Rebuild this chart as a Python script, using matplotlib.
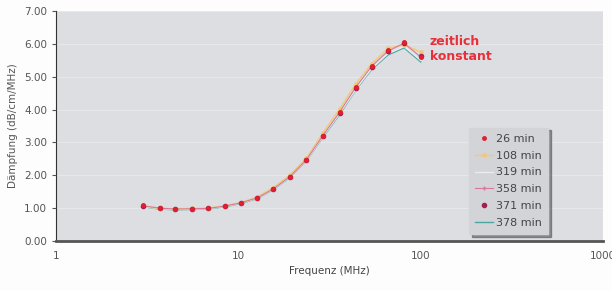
import matplotlib.pyplot as plt

freq = [3.0, 3.7, 4.5, 5.6, 6.8, 8.4, 10.3, 12.7, 15.5, 19.1, 23.6, 29.0,
        35.9, 44.0, 53.8, 66.0, 81.0, 100.0]

d26 = [1.08, 1.00, 0.97, 0.98, 0.99, 1.06, 1.16, 1.31, 1.58, 1.95, 2.47, 3.20,
       3.92, 4.68, 5.32, 5.80, 6.06, 5.60]
d108 = [1.06, 0.99, 0.98, 0.99, 1.00, 1.07, 1.17, 1.34, 1.62, 2.00, 2.52, 3.28,
        4.02, 4.78, 5.40, 5.86, 5.98, 5.75]
d319 = [1.05, 0.98, 0.96, 0.97, 0.98, 1.05, 1.15, 1.30, 1.57, 1.94, 2.45, 3.17,
        3.88, 4.62, 5.25, 5.70, 5.92, 5.50]
d358 = [1.07, 1.00, 0.97, 0.98, 0.99, 1.06, 1.16, 1.31, 1.58, 1.95, 2.47, 3.20,
        3.92, 4.68, 5.32, 5.78, 6.02, 5.60]
d371 = [1.07, 0.99, 0.97, 0.98, 0.99, 1.06, 1.16, 1.31, 1.58, 1.95, 2.47, 3.19,
        3.90, 4.66, 5.30, 5.78, 6.04, 5.62]
d378 = [1.04, 0.97, 0.95, 0.96, 0.97, 1.04, 1.14, 1.29, 1.56, 1.93, 2.44, 3.15,
        3.85, 4.60, 5.22, 5.66, 5.88, 5.45]

labels = ['26 min', '108 min', '319 min', '358 min', '371 min', '378 min']
yticks = [0, 1, 2, 3, 4, 5, 6, 7]
xticks = [1, 10, 100, 1000]

fig = plt.figure(figsize=(6.12, 2.91), dpi=100)
fig.patch.set_facecolor('#fdfdfd')
ax = fig.add_axes([0.0915, 0.172, 0.894, 0.790])
ax.set_facecolor('#dddee2')

ax.set_xscale('log')
ax.set_xlim(1, 1000)
ax.set_ylim(0, 7)
ax.set_yticks(yticks)
ax.set_yticklabels(['%.2f' % v for v in yticks])
ax.yaxis.grid(True, color='#e6e7ea', lw=0.8)
ax.set_axisbelow(True)

ax.plot(freq, d378, color='#4aa8a0', lw=1.0, label=labels[5], zorder=3)
ax.plot(freq, d319, color='#ececec', lw=1.0, label=labels[2], zorder=3)
ax.plot(freq, d108, color='#f5c878', lw=1.0, marker='o', ms=2.5,
        mec='#f5c878', label=labels[1], zorder=3)
ax.plot(freq, d358, color='#d87898', lw=0.8, marker='+', ms=3,
        label=labels[3], zorder=4)
ax.plot(freq, d371, color='#a02050', lw=0, marker='o', ms=3,
        label=labels[4], zorder=4)
ax.plot(freq, d26, color='#e02030', lw=0, marker='o', ms=2.5,
        label=labels[0], zorder=5)

h, l = ax.get_legend_handles_labels()
order = [l.index(s) for s in labels]
leg = ax.legend([h[i] for i in order], [l[i] for i in order],
                loc='lower left', bbox_to_anchor=(0.745, 0.005),
                fontsize=8, frameon=True, fancybox=False, shadow=True,
                handlelength=1.6, handletextpad=0.3, labelspacing=0.62,
                borderpad=0.55, labelcolor='#444444')
leg.get_frame().set_facecolor('#d2d4d8')
leg.get_frame().set_edgecolor('#d2d4d8')

ax.text(112, 5.85, 'zeitlich\nkonstant', color='#e8303a', fontsize=9,
        fontweight='bold', va='center', linespacing=1.25)

for s in ['top', 'right']:
    ax.spines[s].set_visible(False)
ax.spines['left'].set_color('#333333')
ax.spines['bottom'].set_color('#555555')
ax.spines['bottom'].set_linewidth(2.0)

ax.tick_params(axis='both', labelsize=7.5, colors='#555555', length=3)
ax.tick_params(axis='x', which='minor', length=0)
ax.set_xticks(xticks)
ax.set_xticklabels([str(v) for v in xticks])
ax.tick_params(axis='x', length=0, pad=7)
ax.set_xlabel('Frequenz (MHz)', fontsize=7.5, color='#444444')
ax.set_ylabel('Dämpfung (dB/cm/MHz)', fontsize=7.5, color='#555555')

fig.savefig('out.png', dpi=100, facecolor=fig.get_facecolor())
